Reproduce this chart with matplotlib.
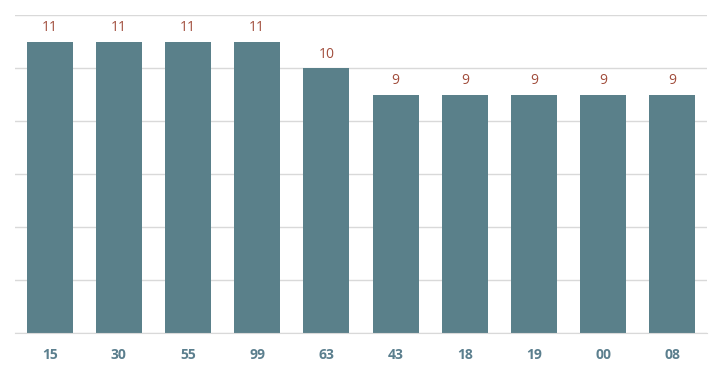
import matplotlib.pyplot as plt

labels = ["15", "30", "55", "99", "63", "43", "18", "19", "00", "08"]
counts = [11, 11, 11, 11, 10, 9, 9, 9, 9, 9]

bar_color = "#5a808a"
value_color = "#a14d3c"
tick_color = "#5b7f8e"

fig = plt.figure(figsize=(7.21, 3.72), dpi=100)
ax = fig.add_axes([15 / 721, 39 / 372, 692 / 721, 318 / 372])

x = list(range(len(labels)))
bars = ax.bar(x, counts, width=0.665, color=bar_color, zorder=2)

for xi, v in zip(x, counts):
    ax.annotate(str(v), (xi, v), xytext=(0, 4.5), textcoords="offset points",
                ha="center", va="bottom", fontsize=10, color=value_color,
                family="Open Sans")

ax.set_xlim(-0.5, len(labels) - 0.5)
ax.set_ylim(0, 12)
ax.set_yticks(range(0, 13, 2))
ax.yaxis.grid(True, color="#d9d9d9", linewidth=1, zorder=0)
ax.set_yticklabels([])
ax.tick_params(axis="y", length=0)

ax.set_xticks(x)
ax.set_xticklabels(labels, fontsize=10, fontweight="bold", color=tick_color,
                   family="Open Sans")
ax.tick_params(axis="x", length=0, pad=11)

for s in ["top", "right", "left"]:
    ax.spines[s].set_visible(False)
ax.spines["bottom"].set_color("#d9d9d9")
ax.spines["bottom"].set_zorder(3)

fig.savefig("out.png", dpi=100)
